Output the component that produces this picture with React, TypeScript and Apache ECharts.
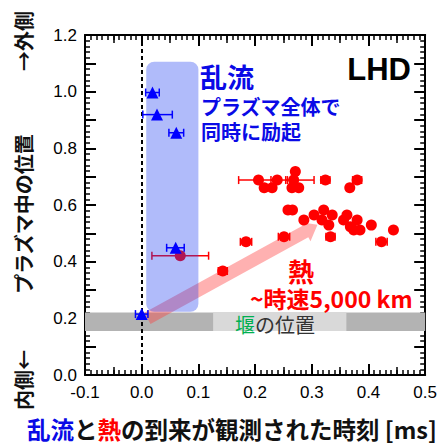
import { useEffect, useRef } from 'react';
import * as echarts from 'echarts';

// ---- turbulence (blue triangles) ----
const turbX = [0.019, 0.027, 0.061, 0.060, 0.000];
const turbY = [0.997, 0.919, 0.855, 0.449, 0.215];
const turbLo = [0.007, 0.002, 0.048, 0.044, -0.011];
const turbHi = [0.031, 0.054, 0.074, 0.075, 0.011];

// ---- heat pulse arrival (red circles) ----
const heatX = [
  0.206, 0.216, 0.230, 0.239, 0.265, 0.268, 0.271, 0.277, 0.324, 0.367, 0.380,
  0.258, 0.266, 0.286, 0.304, 0.321, 0.336, 0.318, 0.330, 0.333, 0.356, 0.362,
  0.380, 0.368, 0.374, 0.385, 0.405, 0.423, 0.444,
  0.251, 0.184, 0.143, 0.068,
];
const heatY = [
  0.688, 0.661, 0.661, 0.688, 0.661, 0.688, 0.718, 0.661, 0.688, 0.661, 0.688,
  0.582, 0.582, 0.547, 0.565, 0.582, 0.565, 0.547, 0.529, 0.488, 0.547, 0.565,
  0.547, 0.523, 0.512, 0.512, 0.529, 0.470, 0.512,
  0.488, 0.470, 0.367, 0.421,
];
// error bars of the heat points that show one
const heatErrX = [0.206, 0.239, 0.268, 0.324, 0.380, 0.333, 0.423, 0.251, 0.184, 0.143, 0.068];
const heatErrY = [0.688, 0.688, 0.688, 0.688, 0.688, 0.488, 0.470, 0.488, 0.470, 0.367, 0.421];
const heatErrLo = [0.171, 0.228, 0.254, 0.316, 0.372, 0.325, 0.413, 0.241, 0.174, 0.135, 0.018];
const heatErrHi = [0.241, 0.257, 0.304, 0.332, 0.388, 0.341, 0.433, 0.261, 0.194, 0.151, 0.118];

// ---- annotation regions (data coordinates: x0, y0, x1, y1) ----
const weirBand = [-0.1, 0.155, 0.5, 0.221];
const weirLabelBox = [0.126, 0.155, 0.361, 0.221];
const turbBox = [0.008, 0.223, 0.1, 1.106];
const heatArrow = [0.01, 0.2, 0.31, 0.53];

const X_MIN = -0.1;
const X_MAX = 0.5;
const Y_MIN = 0;
const Y_MAX = 1.2;

const CJK = "'Noto Sans CJK JP', 'Noto Sans', sans-serif";
const LAT = "'Liberation Sans', Arial, sans-serif";

function errBarRender(color: string) {
  return (params: any, api: any) => {
    const y = api.value(1);
    const lo = api.coord([api.value(2), y]);
    const hi = api.coord([api.value(3), y]);
    const h = 4;
    const st = { stroke: color, lineWidth: 1.5 };
    return {
      type: 'group',
      children: [
        { type: 'line', shape: { x1: lo[0], y1: lo[1], x2: hi[0], y2: hi[1] }, style: st },
        { type: 'line', shape: { x1: lo[0], y1: lo[1] - h, x2: lo[0], y2: lo[1] + h }, style: st },
        { type: 'line', shape: { x1: hi[0], y1: hi[1] - h, x2: hi[0], y2: hi[1] + h }, style: st },
      ],
    };
  };
}

function rectRender(fills: string[], r: number) {
  return (params: any, api: any) => {
    const p0 = api.coord([api.value(0), api.value(3)]);
    const p1 = api.coord([api.value(2), api.value(1)]);
    return {
      type: 'rect',
      shape: { x: p0[0], y: p0[1], width: p1[0] - p0[0], height: p1[1] - p0[1], r },
      style: { fill: fills[params.dataIndex % fills.length] },
    };
  };
}

function arrowRender(params: any, api: any) {
  const s = api.coord([api.value(0), api.value(1)]);
  const t = api.coord([api.value(2), api.value(3)]);
  const dx = t[0] - s[0];
  const dy = t[1] - s[1];
  const len = Math.sqrt(dx * dx + dy * dy);
  const ux = dx / len;
  const uy = dy / len;
  const nx = -uy;
  const ny = ux;
  const w = 6.5;
  const hw = 11;
  const hl = 14;
  const bx = t[0] - ux * hl;
  const by = t[1] - uy * hl;
  const points = [
    [s[0] + nx * w, s[1] + ny * w],
    [bx + nx * w, by + ny * w],
    [bx + nx * hw, by + ny * hw],
    [t[0], t[1]],
    [bx - nx * hw, by - ny * hw],
    [bx - nx * w, by - ny * w],
    [s[0] - nx * w, s[1] - ny * w],
  ];
  return { type: 'polygon', shape: { points }, style: { fill: 'rgba(255,60,60,0.4)' } };
}

const axisLine = { show: true, onZero: false, lineStyle: { color: '#000', width: 2 } };
const majorTick = { show: true, inside: true, length: 11, lineStyle: { color: '#000', width: 2 } };

function xAxisDef(position: 'top' | 'bottom', labels: boolean) {
  return {
    type: 'value',
    position,
    min: X_MIN,
    max: X_MAX,
    interval: 0.1,
    axisLine,
    axisTick: majorTick,
    minorTick: { show: true, splitNumber: 10, length: 5, lineStyle: { color: '#000', width: 1.5 } },
    splitLine: { show: false },
    minorSplitLine: { show: false },
    axisLabel: labels
      ? {
          show: true,
          margin: 9,
          fontSize: 17,
          fontFamily: LAT,
          color: '#000',
          formatter: (v: number) => v.toFixed(1),
        }
      : { show: false },
  };
}

function xMidAxisDef(position: 'top' | 'bottom') {
  return {
    type: 'value',
    position,
    min: X_MIN,
    max: X_MAX,
    interval: 0.05,
    axisLine: { show: false, onZero: false },
    axisTick: { show: true, inside: true, length: 8, lineStyle: { color: '#000', width: 1.5 } },
    splitLine: { show: false },
    axisLabel: { show: false },
  };
}

function yAxisDef(position: 'left' | 'right', labels: boolean) {
  return {
    type: 'value',
    position,
    min: Y_MIN,
    max: Y_MAX,
    interval: 0.1,
    axisLine,
    axisTick: majorTick,
    minorTick: { show: true, splitNumber: 5, length: 5, lineStyle: { color: '#000', width: 1.5 } },
    splitLine: { show: false },
    minorSplitLine: { show: false },
    axisLabel: labels
      ? {
          show: true,
          margin: 8,
          fontSize: 17,
          fontFamily: LAT,
          color: '#000',
          formatter: (v: number) => {
            const k = Math.round(v * 10);
            return k % 2 === 0 ? (k / 10).toFixed(1) : '';
          },
        }
      : { show: false },
  };
}

function label(text: string, x: number, y: number, size: number, fill: string, font: string, align: string, weight = 'bold', rotation = 0) {
  return {
    type: 'text',
    x,
    y,
    rotation,
    z: 100,
    style: { text, fill, fontSize: size, lineHeight: size, fontWeight: weight, fontFamily: font, align, verticalAlign: 'middle' },
  };
}

export default function App() {
  const ref = useRef<HTMLDivElement>(null);

  useEffect(() => {
    if (!ref.current) return;
    const chart = echarts.init(ref.current, null, { renderer: 'svg' });

    const heatData = heatX.map((x, i) => [x, heatY[i]]);
    const heatErr = heatErrX.map((x, i) => [x, heatErrY[i], heatErrLo[i], heatErrHi[i]]);
    const turbData = turbX.map((x, i) => [x, turbY[i]]);
    const turbErr = turbX.map((x, i) => [x, turbY[i], turbLo[i], turbHi[i]]);

    const titleSize = 23.5;

    const option: any = {
      animation: false,
      backgroundColor: '#fff',
      grid: { left: 85, right: 13, top: 35, bottom: 70 },
      xAxis: [xAxisDef('bottom', true), xAxisDef('top', false), xMidAxisDef('bottom'), xMidAxisDef('top')],
      yAxis: [yAxisDef('left', true), yAxisDef('right', false)],
      series: [
        {
          type: 'custom',
          name: 'weir',
          xAxisIndex: 0,
          yAxisIndex: 0,
          silent: true,
          renderItem: rectRender(['#b3b3b3', '#d9d9d9'], 0),
          data: [weirBand, weirLabelBox],
          encode: { x: [0, 2], y: [1, 3] },
          z: 1,
        },
        {
          type: 'custom',
          name: 'arrow',
          xAxisIndex: 0,
          yAxisIndex: 0,
          silent: true,
          renderItem: arrowRender,
          data: [heatArrow],
          encode: { x: [0, 2], y: [1, 3] },
          z: 2,
        },
        {
          type: 'custom',
          name: 'heatErr',
          xAxisIndex: 0,
          yAxisIndex: 0,
          silent: true,
          renderItem: errBarRender('#ff0000'),
          data: heatErr,
          encode: { x: [0, 2, 3], y: 1 },
          z: 3,
        },
        {
          type: 'scatter',
          name: 'heat',
          xAxisIndex: 0,
          yAxisIndex: 0,
          symbol: 'circle',
          symbolSize: 11,
          itemStyle: { color: '#ff0000', opacity: 1 },
          data: heatData,
          z: 4,
          markLine: {
            silent: true,
            symbol: 'none',
            label: { show: false },
            lineStyle: { color: '#000', width: 2, type: [4, 3] },
            data: [{ xAxis: 0 }],
          },
        },
        {
          type: 'custom',
          name: 'turbBox',
          xAxisIndex: 0,
          yAxisIndex: 0,
          silent: true,
          renderItem: rectRender(['rgba(30,60,240,0.35)'], 8),
          data: [turbBox],
          encode: { x: [0, 2], y: [1, 3] },
          z: 5,
        },
        {
          type: 'custom',
          name: 'turbErr',
          xAxisIndex: 0,
          yAxisIndex: 0,
          silent: true,
          renderItem: errBarRender('#0000ff'),
          data: turbErr,
          encode: { x: [0, 2, 3], y: 1 },
          z: 6,
        },
        {
          type: 'scatter',
          name: 'turb',
          xAxisIndex: 0,
          yAxisIndex: 0,
          symbol: 'triangle',
          symbolSize: 12,
          itemStyle: { color: '#0000ff', opacity: 1 },
          data: turbData,
          z: 7,
        },
      ],
      graphic: [
        label('乱流', 200, 76, 27, '#0a0ae6', CJK, 'left'),
        label('プラズマ全体で', 201, 106, 20, '#0a0ae6', CJK, 'left'),
        label('同時に励起', 201, 131, 20, '#0a0ae6', CJK, 'left'),
        label('LHD', 411, 69, 31, '#000', LAT, 'right'),
        label('熱', 301, 270, 26, '#ff0000', CJK, 'center'),
        label('~時速5,000 km', 250, 298, 23, '#ff0000', CJK, 'left'),
        {
          type: 'text',
          x: 235,
          y: 324,
          z: 100,
          style: {
            text: '{g|堰}{k|の位置}',
            align: 'left',
            verticalAlign: 'middle',
            rich: {
              g: { fill: '#00b050', fontSize: 20, lineHeight: 20, fontFamily: CJK, fontWeight: 'normal' },
              k: { fill: '#333', fontSize: 20, lineHeight: 20, fontFamily: CJK, fontWeight: 'normal' },
            },
          },
        },
        {
          type: 'text',
          x: 27,
          y: 429,
          z: 100,
          style: {
            text: '{b|乱流}{k|と}{r|熱}{k|の到来が観測された時刻 [ms]}',
            align: 'left',
            verticalAlign: 'middle',
            rich: {
              b: { fill: '#0a0ae6', fontSize: titleSize, lineHeight: titleSize, fontWeight: 'bold', fontFamily: CJK },
              r: { fill: '#ff0000', fontSize: titleSize, lineHeight: titleSize, fontWeight: 'bold', fontFamily: CJK },
              k: { fill: '#111', fontSize: titleSize, lineHeight: titleSize, fontWeight: 'bold', fontFamily: CJK },
            },
          },
        },
        label('内側←', 23, 380, 20, '#111', CJK, 'center', 'bold', Math.PI / 2),
        label('プラズマ中の位置', 23, 214, 20, '#111', CJK, 'center', 'bold', Math.PI / 2),
        label('→外側', 23, 41, 20, '#111', CJK, 'center', 'bold', Math.PI / 2),
      ],
    };

    chart.setOption(option);
    return () => chart.dispose();
  }, []);

  return <div ref={ref} style={{ position: 'fixed', left: 0, top: 0, width: 440, height: 445 }} />;
}
